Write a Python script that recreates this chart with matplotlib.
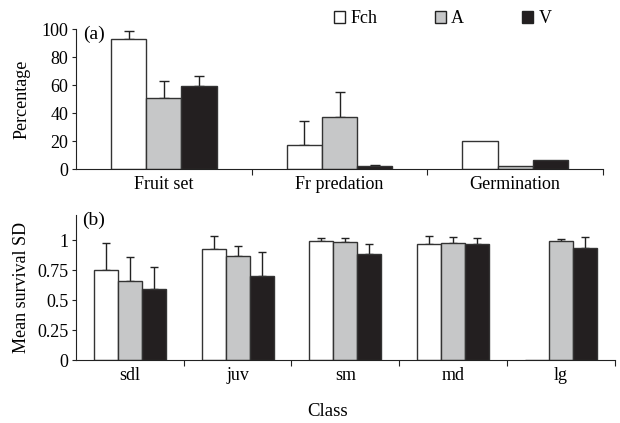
import matplotlib
matplotlib.use("Agg")
import matplotlib.pyplot as plt
import numpy as np
from matplotlib.patches import Patch

plt.rcParams['font.family'] = ['Liberation Serif', 'DejaVu Serif']
plt.rcParams['font.size'] = 13

series = ["Fch", "A", "V"]
colors = ["white", "#c6c7c8", "#231f20"]

# panel (a)
cats_a = ["Fruit set", "Fr predation", "Germination"]
fch_a = [92.5, 17, 20]
a_a = [51, 37, 1.8]
v_a = [59.5, 2, 6.7]
fch_a_err = [6, 17, 0]
a_a_err = [11.5, 18, 0]
v_a_err = [7, 1, 0]

# panel (b)
cats_b = ["sdl", "juv", "sm", "md", "lg"]
fch_b = [0.75, 0.925, 0.992, 0.972, 0]
a_b = [0.66, 0.869, 0.983, 0.98, 0.99]
v_b = [0.589, 0.70, 0.883, 0.964, 0.936]
fch_b_err = [0.228, 0.108, 0.027, 0.064, 0]
a_b_err = [0.20, 0.084, 0.036, 0.048, 0.018]
v_b_err = [0.189, 0.203, 0.081, 0.055, 0.092]

fig = plt.figure(figsize=(6.2, 4.23), dpi=100)
ax1 = fig.add_axes([76 / 620, 1 - 169 / 423, 527 / 620, 140 / 423])
ax2 = fig.add_axes([76 / 620, 1 - 360 / 423, 538.5 / 620, 145 / 423])


def draw(ax, cats, vals, errs, width, cap):
    n = len(cats)
    x = np.arange(n) + 0.5
    for i, (v, e, c) in enumerate(zip(vals, errs, colors)):
        pos = x + (i - 1) * width
        ax.bar(pos, v, width, color=c, edgecolor="#333333", linewidth=1.0, zorder=2)
        e = np.array(e)
        mask = e > 0
        ax.errorbar(pos[mask], np.array(v)[mask], yerr=[np.zeros(mask.sum()), e[mask]],
                    fmt="none", ecolor="#222222", elinewidth=1.0, capsize=cap, capthick=1.0, zorder=1)
    ax.set_xlim(0, n)
    ax.set_xticks(np.arange(1, n + 1))
    ax.set_xticklabels([])
    ax.set_xticks(x, minor=True)
    ax.set_xticklabels(cats, minor=True)
    ax.tick_params(axis="x", which="minor", length=0, pad=5)
    ax.tick_params(axis="x", which="major", length=4, direction="out", color="#222222")
    ax.tick_params(axis="y", length=3, direction="out", pad=2.5, color="#222222")
    for s in ["top", "right"]:
        ax.spines[s].set_visible(False)
    for s in ["left", "bottom"]:
        ax.spines[s].set_color("#222222")


draw(ax1, cats_a, [fch_a, a_a, v_a], [fch_a_err, a_a_err, v_a_err], 0.2, 3.6)
ax1.set_ylim(0, 100)
ax1.set_yticks([0, 20, 40, 60, 80, 100])
ax1.set_ylabel("Percentage", fontsize=13)
ax1.yaxis.set_label_coords(-0.087, 0.5)
ax1.text(83 / 620, 1 - 26 / 423, "(a)", transform=fig.transFigure, fontsize=14, va="top")

draw(ax2, cats_b, [fch_b, a_b, v_b], [fch_b_err, a_b_err, v_b_err], 0.223, 2.9)
ax2.set_ylim(0, 1.21)
ax2.set_yticks([0, 0.25, 0.5, 0.75, 1])
ax2.set_yticklabels(["0", "0.25", "0.5", "0.75", "1"])
ax2.set_ylabel("Mean survival SD", fontsize=13)
ax2.yaxis.set_label_coords(-0.085, 0.5)
ax2.text(82 / 620, 1 - 212 / 423, "(b)", transform=fig.transFigure, fontsize=14, va="top")

fig.text(328 / 620, 1 - 411 / 423, "Class", fontsize=13.5, ha="center", va="center")

handles = [Patch(facecolor=c, edgecolor="#222222", linewidth=1.0) for c in colors]
fig.legend(handles, series, loc="center left", bbox_to_anchor=(334 / 620, 1 - 18.5 / 423), ncol=3,
           frameon=False, handlelength=0.62, handleheight=0.63, handletextpad=0.28,
           columnspacing=3.2, borderpad=0, borderaxespad=0, fontsize=13)

fig.savefig("out.png", dpi=100)
